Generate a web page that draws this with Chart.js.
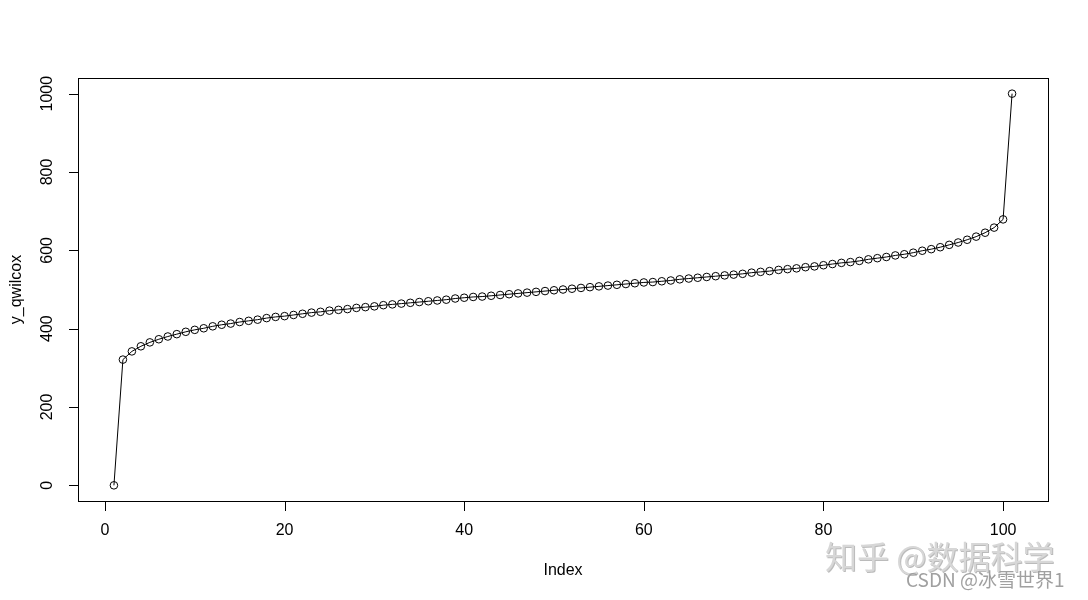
<!DOCTYPE html>
<html>
<head>
<meta charset="utf-8">
<script src="https://cdn.jsdelivr.net/npm/chart.js@4.4.1/dist/chart.umd.min.js"></script>
<style>
  html, body { margin: 0; padding: 0; background: #fff; }
  canvas { display: block; }
</style>
</head>
<body>
<canvas id="mycanvas" width="1088" height="600"></canvas>
<script>
// values: y_qwilcox against Index 1..101
var index = [];
for (var i = 1; i <= 101; i++) index.push(i);

var y_qwilcox = [
  0, 321, 342, 355, 365, 373, 380, 386, 392, 397,
  401, 406, 410, 413, 417, 420, 423, 427, 430, 432,
  435, 438, 441, 443, 446, 448, 450, 453, 455, 457,
  460, 462, 464, 466, 468, 470, 472, 474, 477, 479,
  481, 482, 484, 486, 488, 490, 492, 494, 496, 498,
  500, 502, 504, 506, 508, 510, 512, 514, 516, 518,
  519, 521, 523, 526, 528, 530, 532, 534, 536, 538,
  540, 543, 545, 547, 550, 552, 554, 557, 559, 562,
  565, 568, 570, 573, 577, 580, 583, 587, 590, 594,
  599, 603, 608, 614, 620, 627, 635, 645, 658, 679,
  1000
];

var xTicks = [0, 20, 40, 60, 80, 100];
var yTicks = [0, 200, 400, 600, 800, 1000];
var xTitle = 'Index';
var yTitle = 'y_qwilcox';

var FONT = '"Liberation Sans", Arial, sans-serif';

// R style box, ticks and labels drawn from the chart scales
var rAxes = {
  id: 'rAxes',
  afterDraw: function(chart) {
    var c = chart.ctx;
    var a = chart.chartArea;
    var xs = chart.scales.x, ys = chart.scales.y;
    c.save();
    c.strokeStyle = '#000';
    c.lineWidth = 1;
    c.strokeRect(Math.round(a.left) + 0.5, Math.round(a.top) + 0.5,
                 Math.round(a.right - a.left), Math.round(a.bottom - a.top));

    c.fillStyle = '#000';
    c.font = '16px ' + FONT;

    // x axis
    c.beginPath();
    xTicks.forEach(function(t) {
      var px = Math.round(xs.getPixelForValue(t)) + 0.5;
      c.moveTo(px, a.bottom);
      c.lineTo(px, a.bottom + 10);
    });
    c.stroke();
    c.textAlign = 'center';
    c.textBaseline = 'middle';
    xTicks.forEach(function(t) {
      c.fillText(String(t), xs.getPixelForValue(t), 531);
    });
    c.fillText(xTitle, (a.left + a.right) / 2, 571);

    // y axis
    c.beginPath();
    yTicks.forEach(function(t) {
      var py = Math.round(ys.getPixelForValue(t)) + 0.5;
      c.moveTo(a.left, py);
      c.lineTo(a.left - 9, py);
    });
    c.stroke();
    yTicks.forEach(function(t) {
      c.save();
      c.translate(48, ys.getPixelForValue(t));
      c.rotate(-Math.PI / 2);
      c.fillText(String(t), 0, 0);
      c.restore();
    });
    c.save();
    c.translate(17, (a.top + a.bottom) / 2);
    c.rotate(-Math.PI / 2);
    c.fillText(yTitle, 0, 0);
    c.restore();

    // watermark
    c.textAlign = 'left';
    c.font = '32px "Noto Sans CJK SC", sans-serif';
    c.fillStyle = 'rgba(120,120,120,0.5)';
    c.fillText('知乎 @数据科学', 826, 558);
    c.fillStyle = 'rgb(215,215,215)';
    c.fillText('知乎 @数据科学', 825, 557);
    c.font = '19px "Noto Sans CJK SC", sans-serif';
    c.fillStyle = 'rgb(160,160,160)';
    c.fillText('CSDN @冰雪世界1', 906, 580);
    c.restore();
  }
};

var ctx = document.getElementById('mycanvas');

var chart = new Chart(ctx, {
  type: 'line',
  data: {
    labels: index,
    datasets: [{
      label: yTitle,
      data: index.map(function(x, k) { return { x: x, y: y_qwilcox[k] }; }),
      borderColor: '#000',
      borderWidth: 1,
      backgroundColor: 'rgba(0,0,0,0)',
      pointBackgroundColor: 'rgba(0,0,0,0)',
      pointBorderColor: '#000',
      pointBorderWidth: 1,
      pointRadius: 3.8,
      pointHoverRadius: 3.8,
      tension: 0,
      fill: false
    }]
  },
  options: {
    responsive: false,
    animation: false,
    devicePixelRatio: 1,
    layout: { padding: { left: 78, top: 78, right: 40, bottom: 99 } },
    scales: {
      x: { type: 'linear', min: -3, max: 105, display: false },
      y: { type: 'linear', min: -40, max: 1040, display: false }
    },
    plugins: {
      legend: { display: false },
      tooltip: { enabled: false },
      title: { display: false }
    }
  },
  plugins: [rAxes]
});
</script>
</body>
</html>
